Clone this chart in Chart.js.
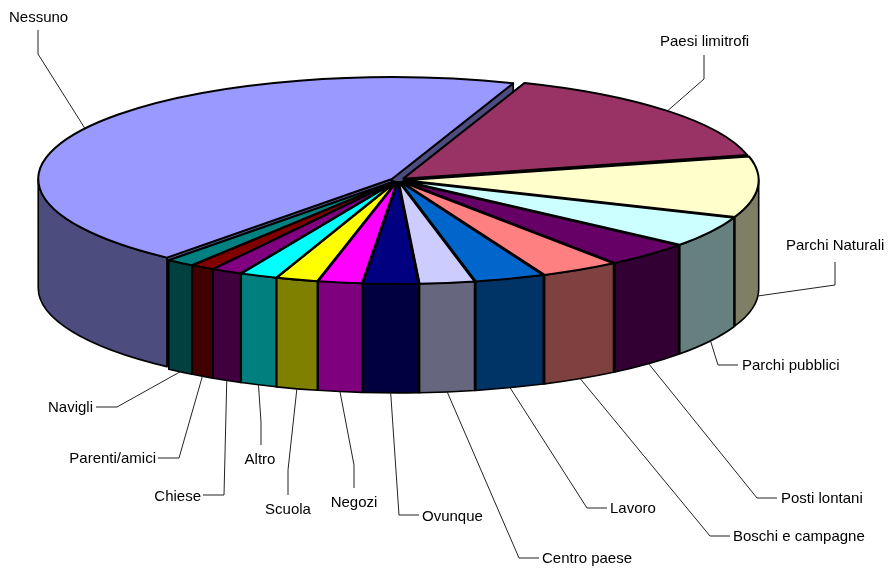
<!DOCTYPE html>
<html>
<head>
<meta charset="utf-8">
<title>Pie</title>
<script src="https://cdn.jsdelivr.net/npm/chart.js@4"></script>
<style>
  html, body { margin: 0; padding: 0; background: #fff; }
  canvas { display: block; }
</style>
</head>
<body>
<canvas id="chart" width="888" height="571"></canvas>
<script>
// Values (percent of the whole pie)
const categories = ['Nessuno', 'Paesi limitrofi', 'Parchi Naturali', 'Parchi pubblici', 'Posti lontani',
    'Boschi e campagne', 'Lavoro', 'Centro paese', 'Ovunque', 'Negozi', 'Scuola', 'Altro', 'Chiese',
    'Parenti/amici', 'Navigli'];
const values = [44.6, 15.7, 9.6, 4.9, 4.0, 3.6, 3.2, 2.5, 2.5, 2.0, 1.9, 1.7, 1.4, 1.1, 1.3];
const colors = ['#9999FF', '#993366', '#FFFFCC', '#CCFFFF', '#660066', '#FF8080', '#0066CC', '#CCCCFF',
    '#000080', '#FF00FF', '#FFFF00', '#00FFFF', '#800080', '#800000', '#008080'];

// Where the labels sit and where their leader lines bend: [textX, textY, align, elbowX, elbowY, endX, endY]
const labelLayout = [
    [9, 17, 'left', 38, 54, 38, 30],
    [660, 41, 'left', 704, 79, 704, 55],
    [786, 245, 'left', 835, 285, 835, 262],
    [742, 365, 'left', 718, 365, 738, 365],
    [781, 498, 'left', 757, 498, 777, 498],
    [733, 536, 'left', 710, 536, 730, 536],
    [610, 508, 'left', 587, 508, 607, 508],
    [542, 558, 'left', 519, 558, 539, 558],
    [422, 516, 'left', 399, 515, 419, 515],
    [354, 502, 'center', 354, 465, 354, 488],
    [288, 509, 'center', 288, 470, 288, 495],
    [260, 459, 'center', 261, 422, 261, 445],
    [201, 496, 'right', 224, 495, 203, 495],
    [156, 458, 'right', 179, 458, 158, 458],
    [93, 407, 'right', 117, 407, 96, 407]
];

const squash = 0.288;    // how flat the pie looks
const depth = 109;       // height of the side wall
const explode = 28;      // Chart.js divides this by 4

function darken(hex) {
    const n = parseInt(hex.slice(1), 16);
    const r = (n >> 16) >> 1, g = ((n >> 8) & 255) >> 1, b = (n & 255) >> 1;
    return `rgb(${r},${g},${b})`;
}

// ArcElement.draw grows an offset arc by this much, more for thin slices
function radiusGrowth(arc) {
    const circ = arc.endAngle - arc.startAngle;
    return explode / 4 * (1 - Math.sin(Math.min(Math.PI, circ)));
}

// Same maths as ArcElement.draw, so walls and outlines line up with the filled tops
function geom(arc) {
    const d = explode / 4;
    const mid = (arc.startAngle + arc.endAngle) / 2;
    return {
        x: arc.x + Math.cos(mid) * d,
        y: arc.y + Math.sin(mid) * d * squash,
        r: arc.outerRadius + radiusGrowth(arc),
        start: arc.startAngle,
        end: arc.endAngle,
        mid: mid
    };
}

function rim(g, a) {
    return [g.x + Math.cos(a) * g.r, g.y + Math.sin(a) * g.r * squash];
}

function drawCut(ctx, g, a) {
    const p = rim(g, a);
    ctx.beginPath();
    ctx.moveTo(g.x, g.y);
    ctx.lineTo(p[0], p[1]);
    ctx.lineTo(p[0], p[1] + depth);
    ctx.lineTo(g.x, g.y + depth);
    ctx.closePath();
    ctx.fill();
    ctx.stroke();
}

function drawWall(ctx, g, a0, a1) {
    const p = rim(g, a1);
    ctx.beginPath();
    ctx.ellipse(g.x, g.y, g.r, g.r * squash, 0, a0, a1);
    ctx.lineTo(p[0], p[1] + depth);
    ctx.ellipse(g.x, g.y + depth, g.r, g.r * squash, 0, a1, a0, true);
    ctx.closePath();
    ctx.fill();
    ctx.stroke();
}

const pie3d = {
    id: 'pie3d',
    afterDatasetsUpdate(chart) {
        // keep every slice the same size once exploded
        chart.getDatasetMeta(0).data.forEach(arc => {
            arc.outerRadius -= radiusGrowth(arc);
        });
    },
    beforeDatasetsDraw(chart) {
        const ctx = chart.ctx;
        const arcs = chart.getDatasetMeta(0).data;
        const order = arcs.map((arc, i) => i).sort((a, b) => Math.sin(geom(arcs[a]).mid) - Math.sin(geom(arcs[b]).mid));

        ctx.save();
        ctx.strokeStyle = '#000';
        ctx.lineWidth = 1.6;
        ctx.lineJoin = 'round';
        order.forEach(i => {
            const g = geom(arcs[i]);
            ctx.fillStyle = darken(colors[i]);
            drawCut(ctx, g, g.start);
            drawCut(ctx, g, g.end);
            // only the part of the rim facing the viewer has a wall
            for (let k = -1; k <= 2; k++) {
                const a0 = Math.max(g.start, k * 2 * Math.PI);
                const a1 = Math.min(g.end, k * 2 * Math.PI + Math.PI);
                if (a1 > a0) drawWall(ctx, g, a0, a1);
            }
        });
        ctx.restore();

        // squash the round arcs Chart.js is about to fill
        const cx = arcs[0].x, cy = arcs[0].y;
        ctx.save();
        ctx.translate(cx, cy);
        ctx.scale(1, squash);
        ctx.translate(-cx, -cy);
    },
    afterDatasetsDraw(chart) {
        const ctx = chart.ctx;
        ctx.restore();
        const arcs = chart.getDatasetMeta(0).data;

        ctx.save();
        ctx.strokeStyle = '#000';
        ctx.lineWidth = 2;
        ctx.lineJoin = 'round';
        arcs.forEach(arc => {
            const g = geom(arc);
            ctx.beginPath();
            ctx.moveTo(g.x, g.y);
            ctx.ellipse(g.x, g.y, g.r, g.r * squash, 0, g.start, g.end);
            ctx.closePath();
            ctx.stroke();
        });
        ctx.restore();

        // leader lines and labels
        ctx.save();
        ctx.font = '15px "Liberation Sans"';
        ctx.textBaseline = 'middle';
        arcs.forEach((arc, i) => {
            const g = geom(arc);
            const l = labelLayout[i];
            const p = rim(g, g.mid);
            if (Math.sin(g.mid) > 0) p[1] += depth;
            ctx.beginPath();
            ctx.moveTo(p[0], p[1]);
            ctx.lineTo(l[3], l[4]);
            ctx.lineTo(l[5], l[6]);
            ctx.strokeStyle = '#222';
            ctx.lineWidth = 1;
            ctx.stroke();
            ctx.fillStyle = '#000';
            ctx.textAlign = l[2];
            ctx.fillText(categories[i], l[0], l[1] + 1);
        });
        ctx.restore();
    }
};

new Chart(document.getElementById('chart'), {
    type: 'pie',
    data: {
        labels: categories,
        datasets: [{
            data: values,
            backgroundColor: colors,
            borderWidth: 0,
            offset: explode,
            clip: false
        }]
    },
    options: {
        responsive: false,
        animation: false,
        rotation: 219.5,
        radius: 353.7,
        layout: { padding: { right: 92, bottom: 211 } },
        plugins: { legend: { display: false }, tooltip: { enabled: false } }
    },
    plugins: [pie3d]
});
</script>
</body>
</html>
